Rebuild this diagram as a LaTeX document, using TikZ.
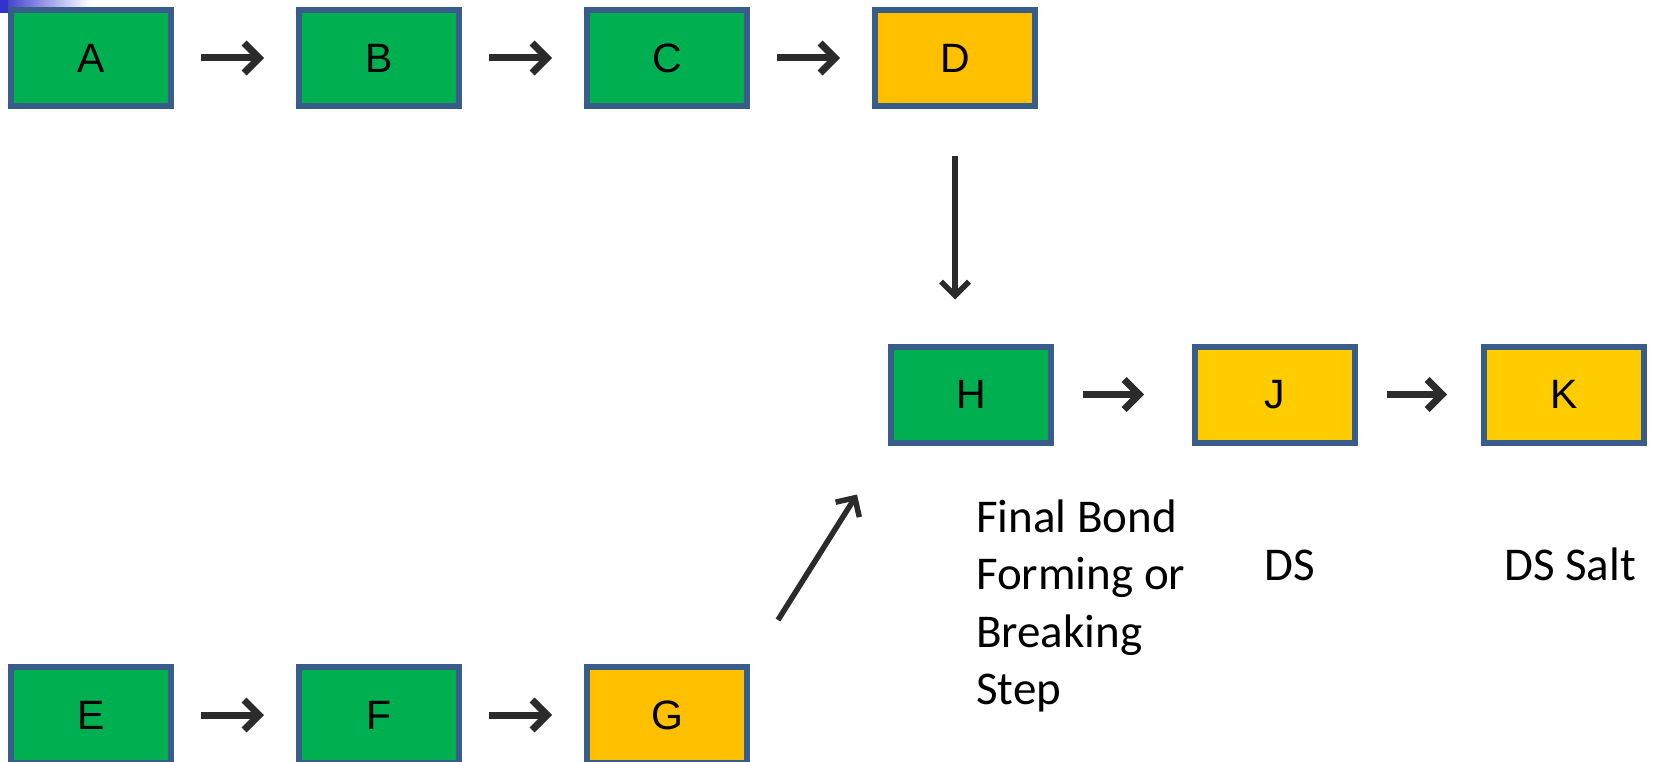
\documentclass[tikz,border=0pt]{standalone}
\usepackage{fontspec}
\setmainfont{Carlito}
\newfontfamily\boxfont{Liberation Sans}
\usetikzlibrary{arrows.meta}
\definecolor{stepgreen}{HTML}{00B050}
\definecolor{stepamber}{HTML}{FFC000}
\definecolor{stepyellow}{HTML}{FFCC00}
\definecolor{stepedge}{HTML}{385D8A}
\definecolor{arrowgrey}{HTML}{2B2B2B}
\definecolor{cornerblue}{HTML}{3333CC}

\begin{document}
\begin{tikzpicture}[x=1pt,y=-1pt,
  stepbox/.style={draw=stepedge, line width=6pt, minimum width=160pt,
    minimum height=96pt, inner sep=0pt, outer sep=3pt,
    font=\boxfont\fontsize{41}{48}\selectfont},
  greenbox/.style={stepbox, fill=stepgreen},
  amberbox/.style={stepbox, fill=stepamber},
  yellowbox/.style={stepbox, fill=stepyellow},
  flow/.style={draw=arrowgrey, line width=7pt,
    -{Straight Barb[length=15pt,width=30pt]}},
  flowthin/.style={draw=arrowgrey, line width=5.5pt,
    -{Straight Barb[length=14pt,width=28pt]}},
  caption/.style={inner sep=0pt, anchor=base west, font=\fontsize{47}{57.5}\selectfont},
]
\useasboundingbox (0,0) rectangle (1655,762);

% corner accent
\fill[left color=cornerblue, right color=white] (0,0) rectangle (90,7);
\fill[cornerblue] (0,0) rectangle (8,13);

% top route
\node[greenbox] (A) at (91,58) {A};
\node[greenbox] (B) at (379,58) {B};
\node[greenbox] (C) at (667,58) {C};
\node[amberbox] (D) at (955,58) {D};

% bottom route
\node[greenbox] (E) at (91,715) {E};
\node[greenbox] (F) at (379,715) {F};
\node[amberbox] (G) at (667,715) {G};

% convergent end
\node[greenbox] (H) at (971,394.5) {H};
\node[yellowbox] (J) at (1275,394.5) {J};
\node[yellowbox] (K) at (1564,394.5) {K};

\draw[flow, shorten <=27pt, shorten >=32pt] (A) -- (B);
\draw[flow, shorten <=27pt, shorten >=32pt] (B) -- (C);
\draw[flow, shorten <=27pt, shorten >=32pt] (C) -- (D);
\draw[flow, shorten <=27pt, shorten >=32pt] (E) -- (F);
\draw[flow, shorten <=27pt, shorten >=32pt] (F) -- (G);
\draw[flow, shorten <=29pt, shorten >=48pt] (H) -- (J);
\draw[flow, shorten <=29pt, shorten >=34pt] (J) -- (K);

\draw[flowthin, shorten <=47pt, shorten >=44pt] (D.south) -- (D.south |- H.north);
\draw[flowthin] ([shift={(28,-44)}]G.north east) -- ([shift={(-31,49)}]H.south west);

% captions
\node[caption] (capH) at (976,532)
  {\begin{tabular}[t]{@{}l@{}}Final Bond\\Forming or\\Breaking\\Step\end{tabular}};
\node[caption] (capJ) at (1264,580) {DS};
\node[caption] (capK) at (1504,580) {DS Salt};
\end{tikzpicture}
\end{document}
